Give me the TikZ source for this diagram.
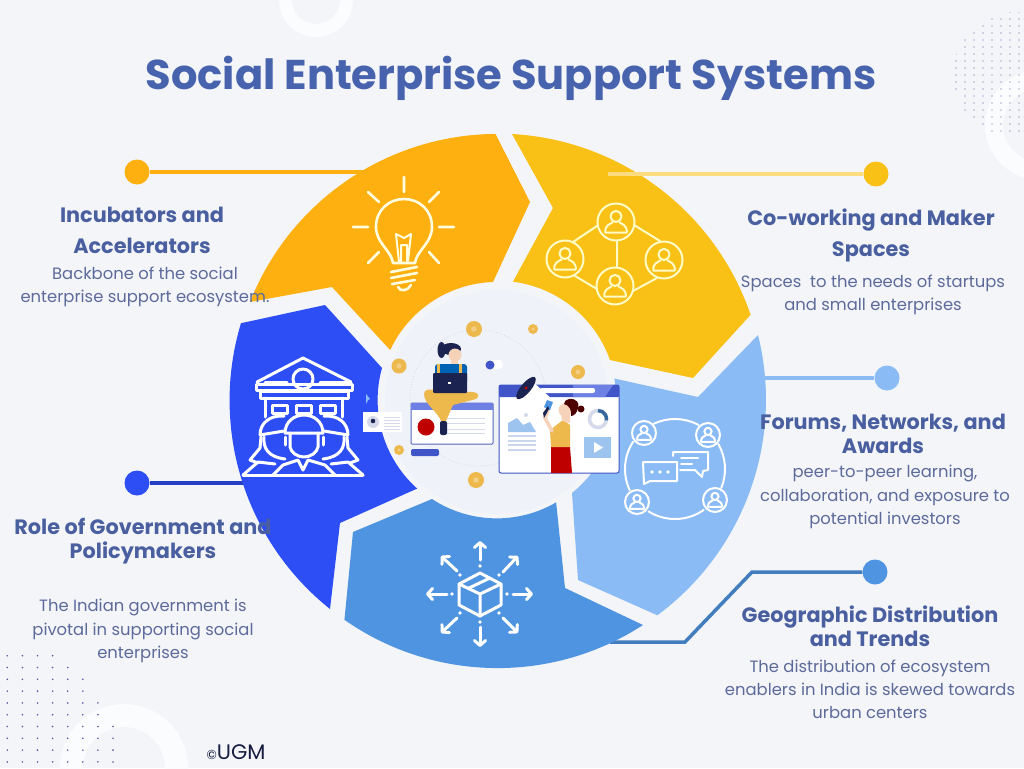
\documentclass[tikz,border=0pt]{standalone}
\usepackage{fontspec}
\setmainfont{Poppins}
\usetikzlibrary{arrows.meta}
\definecolor{bg}{HTML}{F3F5F9}
\definecolor{discc}{HTML}{F0F2F9}
\definecolor{ringc}{HTML}{FBFCFD}
\definecolor{segA}{HTML}{FDB00F}
\definecolor{segB}{HTML}{F9C015}
\definecolor{segC}{HTML}{8ABBF5}
\definecolor{segD}{HTML}{4E94E0}
\definecolor{segE}{HTML}{2D4EF5}
\definecolor{titlec}{HTML}{4863AE}
\definecolor{headc}{HTML}{4A5F9F}
\definecolor{bodyc}{HTML}{5D6A9A}
\definecolor{coin}{HTML}{EDB84C}
\definecolor{navy}{HTML}{1B2350}
\definecolor{skin}{HTML}{F6D2B8}
\definecolor{winblue}{HTML}{3F55C8}
\definecolor{winlite}{HTML}{6D80E3}
\definecolor{tile}{HTML}{9CC4EE}
\definecolor{linec}{HTML}{D5DAEA}
\tikzset{
  titletext/.style={inner sep=0pt,text=titlec,font=\fontsize{41.6}{48}\selectfont\bfseries},
  headtext/.style={inner sep=0pt,text=headc,align=center,font=\fontsize{20.8}{#1}\selectfont\bfseries},
  bodytext/.style={inner sep=0pt,text=bodyc,align=center,font=\fontsize{16.4}{23.2}\selectfont},
  dotnode/.style={circle,inner sep=0pt,minimum size=#1},
  conn/.style={line width=3.5pt},
  iconline/.style={line width=2.6pt,line cap=round,line join=round},
}
\newcommand\personic[3]{%
  \begin{scope}[shift={(#1,#2)},scale=#3]
    \draw (0,0) circle (1);
    \draw (0,-.3) circle (.3);
    \draw (-.58,.58) .. controls (-.62,.2) and (-.35,.12) .. (-.18,.02)
      (.58,.58) .. controls (.62,.2) and (.35,.12) .. (.18,.02)
      (-.58,.58) -- (.58,.58);
  \end{scope}}
\newcommand\coinat[3]{\fill[coin] (#1,#2) circle (#3);\fill[coin!70!white] (#1,#2) circle (#3*0.35);}
\begin{document}
\begin{tikzpicture}[x=1pt,y=-1pt]
\useasboundingbox (0,0) rectangle (1024,768);
\fill[bg] (0,0) rectangle (1024,768);
% decorative rings
\begin{scope}
\clip (0,0) rectangle (1024,768);
\draw[ringc,line width=13pt] (316,0) circle (30.5);
\draw[ringc,line width=18pt] (1040,125) circle (46);
\draw[ringc,line width=23pt] (124,768) circle (52.5);
\end{scope}
% dot grids
\begin{scope}
\foreach \r/\n in {0/4,1/5,2/6,3/6,4/7,5/7,6/8,7/8,8/8,9/8}{
  \foreach \c in {1,...,\n}{
    \fill[gray!70!blue] ({7.3+15.1*(\c-1)},{655.7+11.8*\r}) circle (.9);
  }}
\end{scope}
\begin{scope}
\clip (1015,74) circle (62);
\foreach \i in {0,...,8}{
  \foreach \j in {0,...,20}{
    \fill[gray!75!blue] ({956+9*\i},{5+7*\j}) circle (.6);
  }}
\end{scope}
% connector dots and free ends
\node[dotnode=25pt,fill=segA] (dotA) at (137,172) {};
\node[dotnode=25pt,fill=segB] (dotB) at (876,174) {};
\node[dotnode=25pt,fill=segC] (dotC) at (887,378) {};
\node[dotnode=25pt,fill=segD] (dotD) at (875,572) {};
\node[dotnode=25pt,fill=segE] (dotE) at (137,483) {};
\coordinate (endA) at (365,172);
\coordinate (endB) at (608,174);
\coordinate (endC) at (765,378);
\coordinate (endD) at (610,642);
\coordinate (bendD1) at (752,572);
\coordinate (bendD2) at (685,642);
\coordinate (endE) at (250,483);
\draw[conn,segA] (dotA) -- (endA);
\draw[conn,segC] (dotC) -- (endC);
\draw[conn,color=segD!85!black,line join=miter] (dotD) -- (bendD1) -- (bendD2) -- (endD);
\draw[conn,color=segE!80!black] (dotE) -- (endE);
% segments
\fill[segA] (250,302) arc[start angle=201.6,end angle=269.6,radius=266] -- (530,202) -- (493,282)
  arc[start angle=268,end angle=205,radius=118] -- (332,287) -- cycle;
\fill[segB] (512,134) arc[start angle=273.2,end angle=341.1,radius=268] -- (693,378) -- (610,360)
  arc[start angle=340.5,end angle=277.3,radius=119] -- (553,208) -- cycle;
\fill[segC] (758,335) arc[start angle=346,end angle=413.5,radius=268] -- (578,580) -- (572,493)
  arc[start angle=51.1,end angle=-10.6,radius=119] -- (698,397) -- cycle;
\fill[segD] (432,499) arc[start angle=123.3,end angle=59.8,radius=118] -- (565,588) -- (643,625)
  arc[start angle=57,end angle=125,radius=267] -- (353,532) -- cycle;
\fill[segE] (242,323) -- (325,305) -- (382,368)
  arc[start angle=195.6,end angle=131.9,radius=119] -- (340,523) -- (330,609)
  arc[start angle=128.6,end angle=196.8,radius=267] -- cycle;
\draw[conn,color=segB!55!white] (dotB) -- (endB);
% centre disc
\fill[discc] (497,402) circle (112);
\draw[linec,dotted,line width=.8pt] (478,398) circle (68);
% coins
\coinat{474}{329}{8}
\coinat{533}{329}{5}
\coinat{399}{366}{7.5}
\coinat{578}{372}{7}
\coinat{399}{450}{5}
\coinat{476}{480}{8}
% toggle
\fill[white,rounded corners=4pt] (486,360) rectangle (503,369);
\fill[winblue] (490,365) circle (4.5);
% small card
\fill[white] (363,412) rectangle (402,432);
\fill[linec] (373,422) circle (6);
\fill[navy] (373,421) circle (2.3);
\foreach \yy in {417,420,423,426,429}{\draw[linec,line width=.8pt] (384,\yy) -- (400,\yy);}
\fill[segC] (366,394) -- (370,399) -- (368,400) -- (366,404) -- cycle;
% left window
\draw[fill=white,draw=winlite!80!black,line width=1pt,rounded corners=1pt] (411,403) rectangle (493,444);
\fill[winlite] (411,403) rectangle (493,410);
\fill[red!75!black] (426,427) circle (8.5);
\foreach \yy in {418,423,429,433}{\draw[linec,line width=1pt] (447,\yy) -- (485,\yy);}
\fill[winblue,rounded corners=2pt] (411,449) rectangle (439,456);
% woman one
\fill[navy] (441.5,350) ellipse (4 and 8);
\fill[navy] (451,349) ellipse (10 and 6);
\fill[skin] (455,355) circle (6.5);
\fill[skin] (451,360) rectangle (458,366);
\fill[blue!45!cyan!70!black,rounded corners=3pt] (435,364) rectangle (467,384);
\fill[coin] (437,364) rectangle (440,373);
\fill[coin] (459,364) rectangle (462,373);
\fill[coin] (424,394) .. controls (424,389) and (430,389) .. (435,390) -- (468,392)
  .. controls (478,391) and (481,396) .. (476,399) -- (453,405) -- (446,421) -- (441,421)
  .. controls (438,412) and (424,404) .. (424,394) -- cycle;
\fill[navy,rounded corners=1pt] (433,373) rectangle (467,393);
\fill[white] (448,382) rectangle (451,384);
\fill[navy,rounded corners=2pt] (440,421) rectangle (447,435);
% big window
\draw[fill=white,draw=winblue,line width=1pt,rounded corners=2pt] (499,385) rectangle (619,473);
\fill[winblue,rounded corners=1pt] (499,385) rectangle (619,397);
\fill[winlite] (573,385) -- (613,385) -- (605,397) -- (573,397) -- cycle;
\fill[white,rounded corners=2pt] (540,388) rectangle (595,393);
\fill[tile] (508,432) -- (508,423) -- (517,418) -- (523,425) -- (530,422) -- (536,432) -- cycle;
\fill[linec] (526,415) circle (2);
\foreach \yy in {436,441,445,450}{\draw[linec!80!tile,line width=1.2pt] (508,\yy) -- (536,\yy);}
\draw[linec,line width=3.5pt] (598,419) circle (8.5);
\draw[segD!70!black,line width=3.5pt] (598,410.5) arc[start angle=270,end angle=370,radius=8.5];
\fill[tile] (584,437) rectangle (611,458);
\fill[white] (594,442) -- (603,447.5) -- (594,453) -- cycle;
% woman two
\fill[red!75!black] (551,447) -- (570,447) -- (572,473) -- (551,473) -- cycle;
\fill[coin] (550,430) -- (563,420) -- (570,425) -- (570,447) -- (551,447) -- cycle;
\draw[skin,line width=3.5pt,line cap=round] (552,431) -- (545,418) -- (549,408);
\fill[skin] (562,421) -- (561,412) -- (570,412) -- (570,423) -- cycle;
\fill[skin] (565,410) circle (6.5);
\fill[red!30!black] (569,399) .. controls (576,398) and (580,403) .. (578,408)
  .. controls (577,413) and (574,416) .. (571,416) .. controls (572,410) and (569,405) .. (564,404)
  .. controls (564,401) and (566,400) .. (569,399) -- cycle;
\fill[red!30!black] (581,409) circle (3.5);
\fill[white] (532,381) -- (523,396) -- (548,408) -- (553,400) -- cycle;
\fill[segD] (547,400) -- (553,402) -- (550,410) -- (544,407) -- cycle;
\fill[navy] (543,413) -- (548,406) -- (549,409) -- (544,418) -- cycle;
\fill[navy,rotate around={-40:(526,388)}] (526,388) ellipse (5 and 14);
\fill[red!80!black] (526,388) circle (1.6);
% icon: bulb
\begin{scope}[iconline,draw=yellow!12!white]
\draw (404,177) -- (404,192) (353,227) -- (368,227) (439,227) -- (454,227)
  (368,192) -- (379,202) (439,192) -- (429,202) (368,263) -- (379,252) (439,263) -- (429,252);
\draw (393,263) .. controls (391,250) and (376,243) .. (376,227)
  .. controls (376,210) and (389,199) .. (404,199) .. controls (419,199) and (432,210) .. (432,227)
  .. controls (432,243) and (417,250) .. (415,263) -- cycle;
\draw (391,272) -- (417,267) (391,278) -- (417,273) (392,284) -- (415,280);
\draw (398,287) .. controls (400,292) and (408,291) .. (411,285);
\draw[line width=2pt] (399,262) -- (396,234) -- (404,238) -- (411,234) -- (408,261) (401,262) -- (401,245) -- (407,245) -- (407,261);
\end{scope}
% icon: network
\begin{scope}[iconline,line width=2pt,draw=yellow!22!white]
\personic{616}{222}{18.5}
\personic{565}{259}{18.5}
\personic{664}{260}{18.5}
\personic{615}{286}{18.5}
\draw (597,226) -- (573,242) (634,225) -- (660,241) (617,241) -- (617,267) (575,276) -- (597,289) (633,291) -- (657,278);
\end{scope}
% icon: government
\begin{scope}[iconline,line width=3pt,draw=white]
\draw (257,382) -- (303,358) -- (351,382);
\draw (265,382) -- (287,382) (320,382) -- (348,382);
\draw (303,379) circle (10);
\draw (256,384) rectangle (352,390);
\draw (260,391) rectangle (348,398);
\draw (265,398) -- (265,417) (342,398) -- (342,417);
\draw (272,405) rectangle (287,413) (296,405) rectangle (311,413) (320,405) rectangle (335,413);
% middle person
\draw (285,433) .. controls (285,422) and (294,415) .. (304,415) .. controls (314,415) and (323,422) .. (323,433) -- cycle;
\draw (290,433) -- (290,447) .. controls (291,453) and (298,457) .. (304,457) .. controls (310,457) and (317,453) .. (318,447) -- (318,433);
\draw (285,437) -- (285,445) (323,437) -- (323,445);
% side persons
\draw (260,435) .. controls (260,423) and (270,415) .. (284,416);
\draw (348,435) .. controls (348,423) and (338,415) .. (324,416);
\draw (260,435) -- (284,431) (348,435) -- (324,431);
\draw (264,437) .. controls (263,448) and (268,457) .. (285,459);
\draw (344,437) .. controls (345,448) and (340,457) .. (323,459);
\draw (261,437) -- (260,448) -- (250,460) -- (258,463);
\draw (347,437) -- (348,448) -- (358,460) -- (350,463);
% shoulders
\draw (243,475) -- (363,475);
\draw (243,475) -- (258,462) -- (275,464) (363,475) -- (348,462) -- (331,464);
\draw (273,475) -- (283,465) -- (298,460) -- (303,470) -- (308,460) -- (325,465) -- (335,475);
\end{scope}
% icon: box with arrows
\begin{scope}[iconline,line width=3pt,draw=white]
\draw (480,573) -- (501,584) -- (501,605) -- (480,616) -- (459,605) -- (459,584) -- cycle;
\draw (459,584) -- (480,594) -- (501,584) (480,594) -- (480,616);
\draw (469,588) -- (490,578);
\foreach \ax/\ay/\bx/\by in {480/560/480/541,513/594/533/594,447/594/426/594,480/627/480/647,503/572/518/556,457/571/441/556,503/618/518/633,457/618/441/633}{
  \draw[-{Straight Barb[length=5pt,width=11pt,round]}] (\ax,\ay) -- (\bx,\by);
}
\foreach \dx/\dy in {480/566,507/594,452/594,480/622,499/575,460/575,499/613,460/613}{
  \fill[white] (\dx,\dy) circle (1.9);
}
\end{scope}
% icon: forums
\begin{scope}[iconline,line width=2pt,draw=white]
\personic{644}{433}{12}
\personic{708}{435}{12}
\personic{637}{502}{12}
\personic{715}{500}{12}
\draw (675,469) +(245:50) arc[start angle=245,end angle=298,radius=50];
\draw (675,469) +(330:50) arc[start angle=330,end angle=382,radius=50];
\draw (675,469) +(55:50) arc[start angle=55,end angle=122,radius=50];
\draw (675,469) +(155:50) arc[start angle=155,end angle=213,radius=50];
\draw (673,456) -- (673,452) -- (708,452) -- (708,470) -- (703,471) -- (702,477) -- (695,470) -- (680,470);
\draw (681,458) -- (698,458) (681,464) -- (692,464);
\draw (643,462) -- (677,462) -- (677,481) -- (650,481) -- (644,484) -- (643,462);
\end{scope}
\foreach \dx in {652,660,668}{\fill[white] (\dx,472) circle (1.9);}
% texts
\node[titletext] (title) at (511,78) {Social Enterprise Support Systems};
\node[headtext=31] (incH) at (142,230) {Incubators and\\Accelerators};
\node[bodytext] (incB) at (145,287) {Backbone of the social\\enterprise support ecosystem.};
\node[headtext=31] (cowH) at (871,235) {Co-working and Maker\\Spaces};
\node[bodytext] (cowB) at (873,295) {Spaces\ \ to the needs of startups\\and small enterprises};
\node[headtext=24] (forH) at (883,434) {Forums, Networks, and\\Awards};
\node[bodytext] (forB) at (885,497) {peer-to-peer learning,\\collaboration, and exposure to\\potential investors};
\node[headtext=24] (geoH) at (870,626) {Geographic Distribution\\and Trends};
\node[bodytext] (geoB) at (870,689) {The distribution of ecosystem\\enablers in India is skewed towards\\urban centers};
\node[headtext=24] (gvH) at (143,541) {Role of Government and\\Policymakers};
\node[bodytext] (gvB) at (143,631) {The Indian government is\\pivotal in supporting social\\enterprises};
\node[inner sep=0pt,text=navy!80!black,font=\fontsize{21}{24}\selectfont] (ugm) at (236,752) {{\fontsize{13}{14}\selectfont\textcopyright}UGM};
\end{tikzpicture}
\end{document}
